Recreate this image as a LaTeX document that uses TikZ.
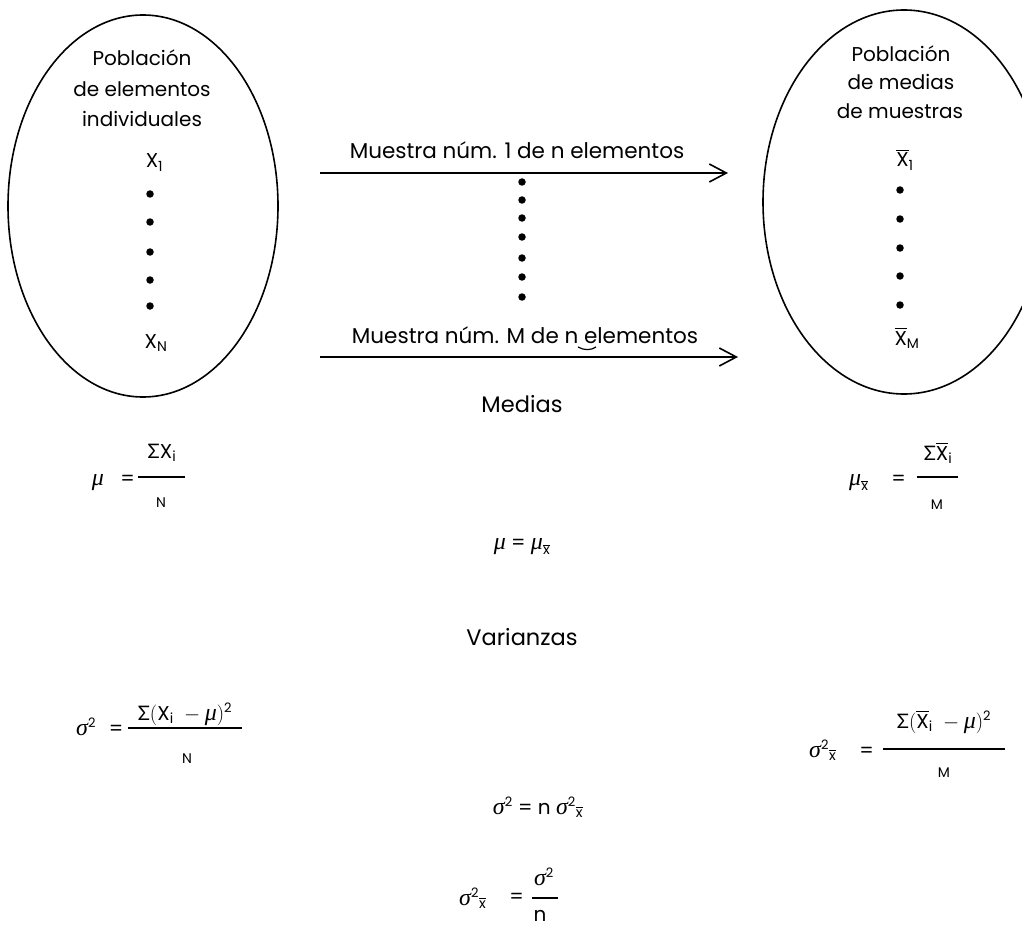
\documentclass[tikz,border=0pt]{standalone}
\usepackage{amsmath}
\usepackage{fontspec}
\setmainfont{Poppins}
\newfontfamily\sigmafont{Lato}
\newfontfamily\grkfont{Liberation Serif}
\usetikzlibrary{arrows.meta,shapes.geometric}

\newcommand{\Sg}{\text{\sigmafont Σ}}
\newcommand{\tX}{\text{X}}
\newcommand{\bX}{\overline{\text{X}}}
\newcommand{\bx}{\overline{\text{x}}}
\newcommand{\gmu}{\text{\fontsize{24}{24}\selectfont\grkfont\itshape μ}}
\newcommand{\gsig}{\text{\fontsize{24}{24}\selectfont\grkfont\itshape σ}}
\newcommand{\sqr}{^{\text{\fontsize{13}{13}\selectfont 2}}}

\tikzset{
  popul/.style={draw, ellipse, line width=1.6pt, inner sep=0pt},
  ttl/.style={font=\fontsize{20}{24}\selectfont, inner sep=0pt, anchor=base},
  lbl/.style={font=\fontsize{21.5}{26}\selectfont, inner sep=0pt, anchor=base},
  head/.style={font=\fontsize{22.5}{26}\selectfont, inner sep=0pt, anchor=base},
  fm/.style={font=\fontsize{20}{24}\selectfont, inner sep=0pt, anchor=base},
  fmw/.style={fm, anchor=base west},
  den/.style={font=\fontsize{14}{16}\selectfont, inner sep=0pt, anchor=base},
  dot/.style={circle, fill, inner sep=0pt, minimum size=7.5pt},
  sample/.style={line width=1.6pt, -{Straight Barb[length=17pt,width=18pt]}},
  fbar/.style={line width=1.3pt},
}

\begin{document}
\begin{tikzpicture}[x=1pt,y=-1pt]
\path[fill=white] (0,0) rectangle (1022,928);
\useasboundingbox (0,0) rectangle (1022,928);

% populations
\node[popul, minimum width=270pt, minimum height=382pt] (popL) at (143,206) {};
\node[popul, minimum width=282pt, minimum height=384pt] (popR) at (904,202) {};

% left population content
\node[ttl] (tL1) at (142,66) {Población};
\node[ttl] (tL2) at (142,96.5) {de elementos};
\node[ttl] (tL3) at (142,127) {individuales};
\node[fm] (xL1) at (154.5,168) {$\tX_{\text{1}}$};
\foreach \y [count=\i] in {194,222,252,280,306}
  \node[dot] (dL\i) at (150,\y) {};
\node[fm] (xLN) at (156,348) {$\tX_{\text{N}}$};

% right population content
\node[ttl] (tR1) at (901,62) {Población};
\node[ttl] (tR2) at (901,90) {de medias};
\node[ttl] (tR3) at (900,119) {de muestras};
\node[fm] (xR1) at (905,167) {$\bX_{\text{1}}$};
\foreach \y [count=\i] in {190,219,248,276,305}
  \node[dot] (dR\i) at (900,\y) {};
\node[fm] (xRM) at (907,345) {$\bX_{\text{M}}$};

% samples
\coordinate (a1s) at (320,173);
\coordinate (a1e) at (728,173);
\coordinate (a2s) at (320,357);
\coordinate (a2e) at (738,357);
\draw[sample] (a1s) -- (a1e);
\draw[sample] (a2s) -- (a2e);
\node[lbl] (m1) at (517,159) {Muestra núm. 1 de n elementos};
\node[lbl] (mM) at (525,343) {Muestra núm. M de n elementos};
\draw[line width=1.2pt] (578,347) .. controls (584,350.5) and (591,350.5) .. (596,347);
\foreach \y [count=\i] in {182,200,218,237,258,277,297}
  \node[dot] (dM\i) at (522,\y) {};

% Medias
\node[head] (medias) at (522,412) {Medias};

\node[fm] (L1mu) at (98,485) {$\gmu$};
\node[fm] (L1eq) at (127.5,485) {=};
\draw[fbar] (138,477) -- (185,477);
\node[fm] (L1num) at (162,458) {$\Sg\tX_{\text{i}}$};
\node[den] (L1den) at (161,507) {N};

\node[fmw] (R1mu) at (849,485) {$\gmu_{\bx}$};
\node[fm] (R1eq) at (898.5,485) {=};
\draw[fbar] (917,477) -- (958,477);
\node[fm] (R1num) at (938,460) {$\Sg\bX_{\text{i}}$};
\node[den] (R1den) at (937,509) {M};

\node[fm] (C1) at (522,549) {$\gmu$ = $\gmu_{\bx}$};

% Varianzas
\node[head] (varz) at (522,645) {Varianzas};

\node[fmw] (L2s) at (76,735) {$\gsig\sqr$};
\node[fm] (L2eq) at (116,735) {=};
\draw[fbar] (128,728) -- (242,728);
\node[fm] (L2num) at (185,720) {$\Sg(\tX_{\text{i}}\;-\gmu)\sqr$};
\node[den] (L2den) at (187,763) {N};

\node[fmw] (R2s) at (809,757) {$\gsig\sqr{}_{\bx}$};
\node[fm] (R2eq) at (866.5,757) {=};
\draw[fbar] (883,749) -- (1005,749);
\node[fm] (R2num) at (944,728) {$\Sg(\bX_{\text{i}}\;-\gmu)\sqr$};
\node[den] (R2den) at (944,777) {M};

\node[fm] (C2) at (538,814) {$\gsig\sqr$ = n $\gsig\sqr{}_{\bx}$};

\node[fmw] (C3s) at (459,905) {$\gsig\sqr{}_{\bx}$};
\node[fm] (C3eq) at (516.5,903) {=};
\draw[fbar] (532,898) -- (558,898);
\node[fm] (C3num) at (544,885) {$\gsig\sqr$};
\node[fm] (C3den) at (540,921) {n};
\end{tikzpicture}
\end{document}
